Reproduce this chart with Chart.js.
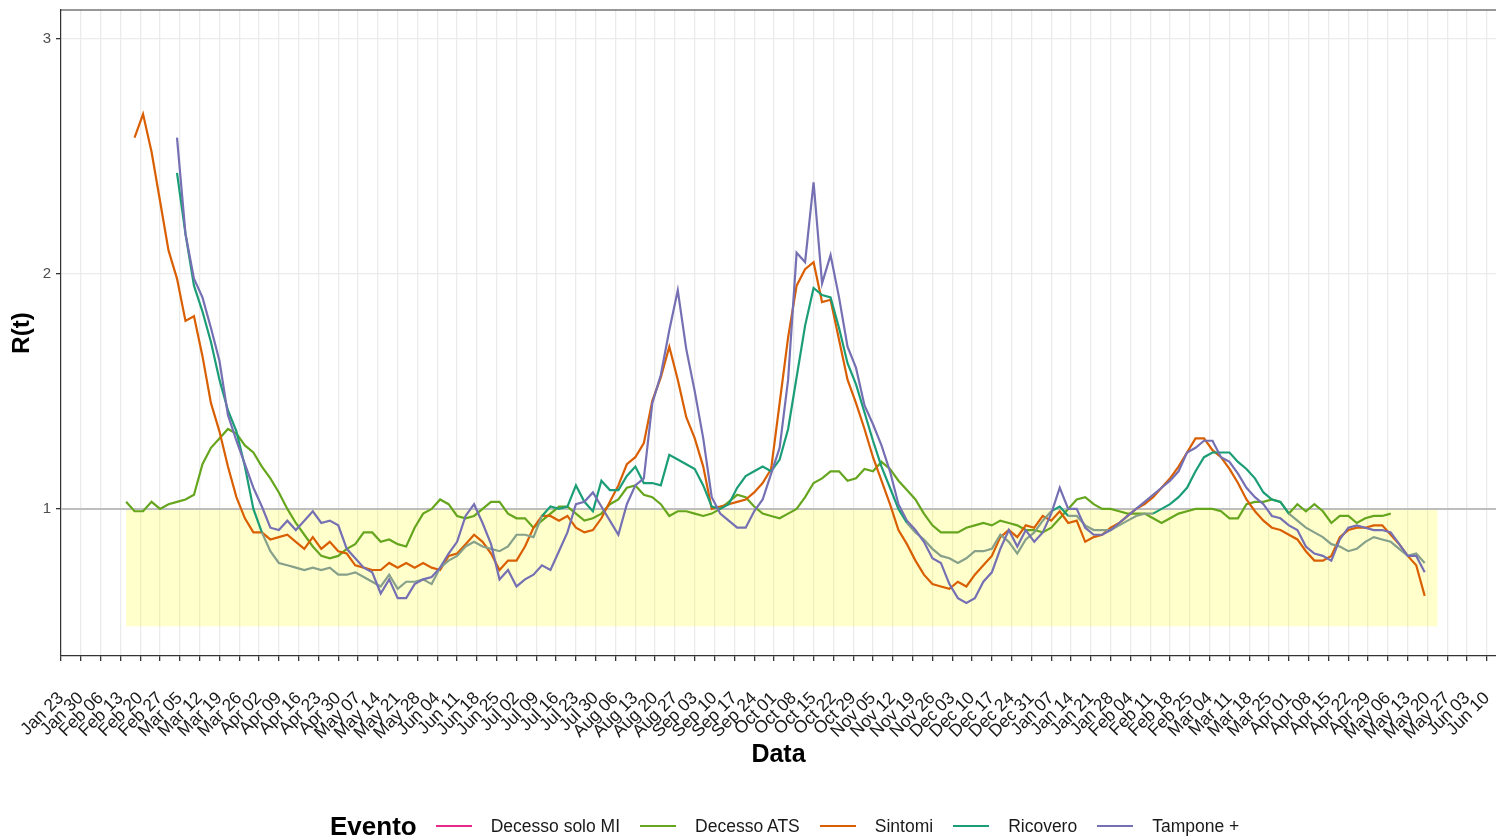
<!DOCTYPE html>
<html>
<head>
<meta charset="utf-8">
<script src="https://cdn.jsdelivr.net/npm/chart.js@4.4.0/dist/chart.umd.min.js"></script>
<style>
  html, body { margin: 0; padding: 0; background: #fff; }
  #wrap { position: relative; width: 1496px; height: 838px; overflow: hidden; }
  #legend { position: absolute; left: 330px; top: 812px; height: 28px; display: flex; align-items: center;
            font-family: "Liberation Sans", Arial, sans-serif; white-space: nowrap; }
  #legend .title { font-weight: bold; font-size: 26px; margin-right: 19px; color: #000; }
  #legend .key { width: 36px; height: 2.5px; margin-right: 19px; }
  #legend .label { font-size: 17.5px; color: #1a1a1a; margin-right: 20px; }
</style>
</head>
<body>
<div id="wrap">
  <canvas id="rtChart" width="1496" height="838"></canvas>
  <div id="legend"></div>
</div>
<script>
// x = days since Jan 23 2020, one weekly tick per label
const tickLabels = [
  'Jan 23', 'Jan 30', 'Feb 06', 'Feb 13', 'Feb 20', 'Feb 27', 'Mar 05', 'Mar 12', 'Mar 19', 'Mar 26',
  'Apr 02', 'Apr 09', 'Apr 16', 'Apr 23', 'Apr 30', 'May 07', 'May 14', 'May 21', 'May 28', 'Jun 04',
  'Jun 11', 'Jun 18', 'Jun 25', 'Jul 02', 'Jul 09', 'Jul 16', 'Jul 23', 'Jul 30', 'Aug 06', 'Aug 13',
  'Aug 20', 'Aug 27', 'Sep 03', 'Sep 10', 'Sep 17', 'Sep 24', 'Oct 01', 'Oct 08', 'Oct 15', 'Oct 22',
  'Oct 29', 'Nov 05', 'Nov 12', 'Nov 19', 'Nov 26', 'Dec 03', 'Dec 10', 'Dec 17', 'Dec 24', 'Dec 31',
  'Jan 07', 'Jan 14', 'Jan 21', 'Jan 28', 'Feb 04', 'Feb 11', 'Feb 18', 'Feb 25', 'Mar 04', 'Mar 11',
  'Mar 18', 'Mar 25', 'Apr 01', 'Apr 08', 'Apr 15', 'Apr 22', 'Apr 29', 'May 06', 'May 13', 'May 20',
  'May 27', 'Jun 03', 'Jun 10'
];
const yTicks = [1, 2, 3];

// series are sampled every 3 days starting Feb 15 2020 (day 23)
const firstDay = 23;
const dayStep = 3;

const seriesNames = ['Decesso solo MI', 'Decesso ATS', 'Sintomi', 'Ricovero', 'Tampone +'];
const seriesColors = ['#E7298A', '#66A61E', '#D95F02', '#1B9E77', '#7570B3'];

const decessoSoloMI = [];

const decessoATS = [
  1.03, 0.99, 0.99, 1.03, 1.00, 1.02, 1.03, 1.04, 1.06, 1.19,
  1.26, 1.30, 1.34, 1.32, 1.27, 1.24, 1.18, 1.13, 1.07, 1.00,
  0.94, 0.89, 0.84, 0.80, 0.79, 0.80, 0.83, 0.85, 0.90, 0.90,
  0.86, 0.87, 0.85, 0.84, 0.92, 0.98, 1.00, 1.04, 1.02, 0.97,
  0.96, 0.97, 1.00, 1.03, 1.03, 0.98, 0.96, 0.96, 0.92, 0.95,
  0.98, 1.01, 1.01, 0.98, 0.95, 0.96, 0.98, 1.02, 1.04, 1.09,
  1.10, 1.06, 1.05, 1.02, 0.97, 0.99, 0.99, 0.98, 0.97, 0.98,
  1.00, 1.03, 1.06, 1.05, 1.01, 0.98, 0.97, 0.96, 0.98, 1.00,
  1.05, 1.11, 1.13, 1.16, 1.16, 1.12, 1.13, 1.17, 1.16, 1.20,
  1.17, 1.12, 1.08, 1.04, 0.98, 0.93, 0.90, 0.90, 0.90, 0.92,
  0.93, 0.94, 0.93, 0.95, 0.94, 0.93, 0.91, 0.91, 0.90, 0.92,
  0.96, 1.00, 1.04, 1.05, 1.02, 1.00, 1.00, 0.99, 0.98, 0.98,
  0.98, 0.96, 0.94, 0.96, 0.98, 0.99, 1.00, 1.00, 1.00, 0.99,
  0.96, 0.96, 1.02, 1.03, 1.03, 1.04, 1.03, 0.98, 1.02, 0.99,
  1.02, 0.99, 0.94, 0.97, 0.97, 0.94, 0.96, 0.97, 0.97, 0.98,
  null, null, null, null
];

const sintomi = [
  null, 2.58, 2.68, 2.52, 2.31, 2.10, 1.98, 1.80, 1.82, 1.65,
  1.45, 1.33, 1.18, 1.05, 0.96, 0.90, 0.90, 0.87, 0.88, 0.89,
  0.86, 0.83, 0.88, 0.83, 0.86, 0.82, 0.81, 0.76, 0.75, 0.74,
  0.74, 0.77, 0.75, 0.77, 0.75, 0.77, 0.75, 0.74, 0.80, 0.81,
  0.85, 0.89, 0.86, 0.81, 0.74, 0.78, 0.78, 0.84, 0.92, 0.97,
  0.97, 0.95, 0.97, 0.92, 0.90, 0.91, 0.96, 1.03, 1.10, 1.19,
  1.22, 1.28, 1.46, 1.56, 1.69, 1.55, 1.39, 1.30, 1.18, 1.00,
  1.01, 1.02, 1.03, 1.04, 1.07, 1.11, 1.17, 1.45, 1.73, 1.95,
  2.02, 2.05, 1.88, 1.89, 1.72, 1.55, 1.45, 1.34, 1.22, 1.12,
  1.02, 0.91, 0.85, 0.78, 0.72, 0.68, 0.67, 0.66, 0.69, 0.67,
  0.72, 0.76, 0.80, 0.88, 0.91, 0.88, 0.93, 0.92, 0.97, 0.95,
  0.99, 0.94, 0.95, 0.86, 0.88, 0.89, 0.92, 0.94, 0.97, 1.00,
  1.02, 1.05, 1.09, 1.13, 1.18, 1.24, 1.30, 1.30, 1.25, 1.22,
  1.17, 1.11, 1.04, 0.99, 0.95, 0.92, 0.91, 0.89, 0.87, 0.82,
  0.78, 0.78, 0.80, 0.88, 0.91, 0.92, 0.92, 0.93, 0.93, 0.89,
  0.85, 0.80, 0.76, 0.63
];

const ricovero = [
  null, null, null, null, null, null, 2.43, 2.17, 1.95, 1.84,
  1.71, 1.55, 1.42, 1.33, 1.18, 1.00, 0.90, 0.82, 0.77, 0.76,
  0.75, 0.74, 0.75, 0.74, 0.75, 0.72, 0.72, 0.73, 0.71, 0.69,
  0.67, 0.72, 0.66, 0.69, 0.69, 0.70, 0.68, 0.75, 0.78, 0.80,
  0.84, 0.86, 0.84, 0.83, 0.82, 0.84, 0.89, 0.89, 0.88, 0.97,
  1.01, 1.00, 1.01, 1.10, 1.03, 0.99, 1.12, 1.08, 1.08, 1.14,
  1.18, 1.11, 1.11, 1.10, 1.23, 1.21, 1.19, 1.17, 1.10, 1.01,
  1.00, 1.02, 1.09, 1.14, 1.16, 1.18, 1.16, 1.21, 1.34, 1.56,
  1.78, 1.94, 1.91, 1.90, 1.77, 1.62, 1.53, 1.41, 1.29, 1.18,
  1.09, 1.00, 0.94, 0.90, 0.87, 0.83, 0.80, 0.79, 0.77, 0.79,
  0.82, 0.82, 0.83, 0.89, 0.86, 0.81, 0.87, 0.90, 0.95, 0.99,
  1.01, 0.97, 0.97, 0.93, 0.91, 0.91, 0.91, 0.93, 0.95, 0.97,
  0.98, 0.98, 1.00, 1.02, 1.05, 1.09, 1.16, 1.22, 1.24, 1.24,
  1.24, 1.20, 1.17, 1.13, 1.07, 1.04, 1.03, 0.98, 0.95, 0.92,
  0.90, 0.88, 0.85, 0.84, 0.82, 0.83, 0.86, 0.88, 0.87, 0.86,
  0.83, 0.80, 0.81, 0.77
];

const tampone = [
  null, null, null, null, null, null, 2.58, 2.17, 1.98, 1.90,
  1.77, 1.63, 1.40, 1.29, 1.19, 1.09, 1.01, 0.92, 0.91, 0.95,
  0.91, 0.95, 0.99, 0.94, 0.95, 0.93, 0.83, 0.79, 0.75, 0.73,
  0.64, 0.70, 0.62, 0.62, 0.68, 0.70, 0.71, 0.75, 0.81, 0.86,
  0.97, 1.02, 0.94, 0.85, 0.70, 0.74, 0.67, 0.70, 0.72, 0.76,
  0.74, 0.82, 0.90, 1.02, 1.03, 1.07, 1.01, 0.95, 0.89, 1.02,
  1.10, 1.13, 1.45, 1.57, 1.76, 1.93, 1.68, 1.50, 1.30, 1.05,
  0.98, 0.95, 0.92, 0.92, 0.99, 1.04, 1.15, 1.26, 1.55, 2.09,
  2.05, 2.39, 1.96, 2.08, 1.90, 1.69, 1.60, 1.44, 1.36, 1.27,
  1.16, 1.02, 0.95, 0.91, 0.86, 0.79, 0.77, 0.68, 0.62, 0.60,
  0.62, 0.69, 0.73, 0.83, 0.91, 0.84, 0.91, 0.86, 0.90, 0.98,
  1.09, 1.00, 1.00, 0.92, 0.89, 0.89, 0.91, 0.94, 0.97, 1.00,
  1.03, 1.06, 1.09, 1.12, 1.16, 1.24, 1.26, 1.29, 1.29, 1.22,
  1.20, 1.15, 1.09, 1.05, 1.02, 0.97, 0.96, 0.93, 0.91, 0.84,
  0.81, 0.80, 0.78, 0.87, 0.92, 0.93, 0.92, 0.91, 0.91, 0.90,
  0.85, 0.80, 0.80, 0.73
];

// shaded area (days, R range) and reference line
const bandDays = [23, 486.5];
const bandRange = [0.5, 1];
const refLine = 1;

const xMax = 507.2;
const yMin = 0.374;
const yMax = 3.123;

Chart.defaults.font.family = '"Liberation Sans", Arial, sans-serif';

const days = tampone.map((_, i) => firstDay + i * dayStep);
const toPoints = arr => days.map((d, i) => ({ x: d, y: arr[i] === undefined ? null : arr[i] }));

const seriesValues = [decessoSoloMI, decessoATS, sintomi, ricovero, tampone];

const datasets = seriesValues.map((vals, k) => {
    const ds = {
        label: seriesNames[k],
        data: toPoints(vals),
        borderColor: seriesColors[k],
        borderWidth: 2.2,
        pointRadius: 0,
        fill: false,
        spanGaps: false,
        order: seriesNames.length - k
    };
    // Ricovero looks greyed out where it runs inside the band
    if (seriesNames[k] === 'Ricovero') {
        ds.segment = {
            borderColor: c => (c.p0.parsed.y < refLine && c.p1.parsed.y < refLine) ? '#86a08a' : undefined
        };
    }
    return ds;
});

// keep the plot panel exactly where the axes say: no extra label padding
const noPad = s => {
    s.paddingLeft = 0;
    s.paddingRight = 0;
    s.paddingTop = 0;
    s.paddingBottom = 0;
};

const bandPlugin = {
    id: 'band',
    beforeDatasetsDraw(chart) {
        const { ctx, chartArea: a, scales: { x, y } } = chart;
        ctx.save();
        ctx.beginPath();
        ctx.rect(a.left, a.top, a.right - a.left, a.bottom - a.top);
        ctx.clip();
        const x0 = x.getPixelForValue(bandDays[0]);
        const x1 = x.getPixelForValue(bandDays[1]);
        const y0 = y.getPixelForValue(bandRange[1]);
        const y1 = y.getPixelForValue(bandRange[0]);
        ctx.fillStyle = 'rgba(255, 255, 0, 0.2)';
        ctx.fillRect(x0, y0, x1 - x0, y1 - y0);
        const yr = y.getPixelForValue(refLine);
        ctx.strokeStyle = '#bebebe';
        ctx.lineWidth = 2;
        ctx.beginPath();
        ctx.moveTo(a.left, yr);
        ctx.lineTo(a.right, yr);
        ctx.stroke();
        ctx.restore();
    },
    afterDraw(chart) {
        // top edge of the panel frame (left and bottom come from the axis borders)
        const { ctx, chartArea: a } = chart;
        ctx.save();
        ctx.strokeStyle = '#333333';
        ctx.lineWidth = 1.2;
        ctx.beginPath();
        ctx.moveTo(a.left, a.top);
        ctx.lineTo(a.right, a.top);
        ctx.stroke();
        ctx.restore();
    }
};

const ctx = document.getElementById('rtChart').getContext('2d');
new Chart(ctx, {
    type: 'line',
    data: { datasets },
    options: {
        responsive: false,
        animation: false,
        devicePixelRatio: 1,
        layout: { padding: { top: 10, bottom: 62, left: 0, right: 0 } },
        plugins: {
            legend: { display: false },
            tooltip: { enabled: false }
        },
        scales: {
            x: {
                type: 'linear',
                min: 0,
                max: xMax,
                afterBuildTicks: s => { s.ticks = tickLabels.map((_, i) => ({ value: i * 7 })); },
                afterFit: s => { s.height = 120; noPad(s); },
                ticks: {
                    autoSkip: false,
                    minRotation: 45,
                    maxRotation: 45,
                    padding: 27,
                    color: '#1a1a1a',
                    font: { size: 17.5 },
                    callback: (v, i) => tickLabels[i]
                },
                grid: { color: '#ebebeb', lineWidth: 1.3, tickColor: '#333333', tickLength: 5 },
                border: { display: true, color: '#333333', width: 1.2 },
                title: {
                    display: true,
                    text: 'Data',
                    color: '#000',
                    font: { size: 25, weight: 'bold' },
                    padding: { top: 0, bottom: 6 }
                }
            },
            y: {
                min: yMin,
                max: yMax,
                afterBuildTicks: s => { s.ticks = yTicks.map(v => ({ value: v })); },
                afterFit: s => { s.width = 61; noPad(s); },
                ticks: {
                    padding: 5,
                    color: '#4d4d4d',
                    font: { size: 15 },
                    callback: v => String(v)
                },
                grid: { color: '#ebebeb', lineWidth: 1.3, tickColor: '#333333', tickLength: 5 },
                border: { display: true, color: '#333333', width: 1.2 },
                title: {
                    display: true,
                    text: 'R(t)',
                    color: '#000',
                    font: { size: 24, weight: 'bold' },
                    padding: { top: 8, bottom: 0 }
                }
            }
        }
    },
    plugins: [bandPlugin]
});

// legend in ggplot style: bold title then key lines with labels, in one row
const legend = document.getElementById('legend');
const lt = document.createElement('span');
lt.className = 'title';
lt.textContent = 'Evento';
legend.appendChild(lt);
seriesNames.forEach((name, k) => {
    const key = document.createElement('span');
    key.className = 'key';
    key.style.background = seriesColors[k];
    legend.appendChild(key);
    const lab = document.createElement('span');
    lab.className = 'label';
    lab.textContent = name;
    legend.appendChild(lab);
});
</script>
</body>
</html>
